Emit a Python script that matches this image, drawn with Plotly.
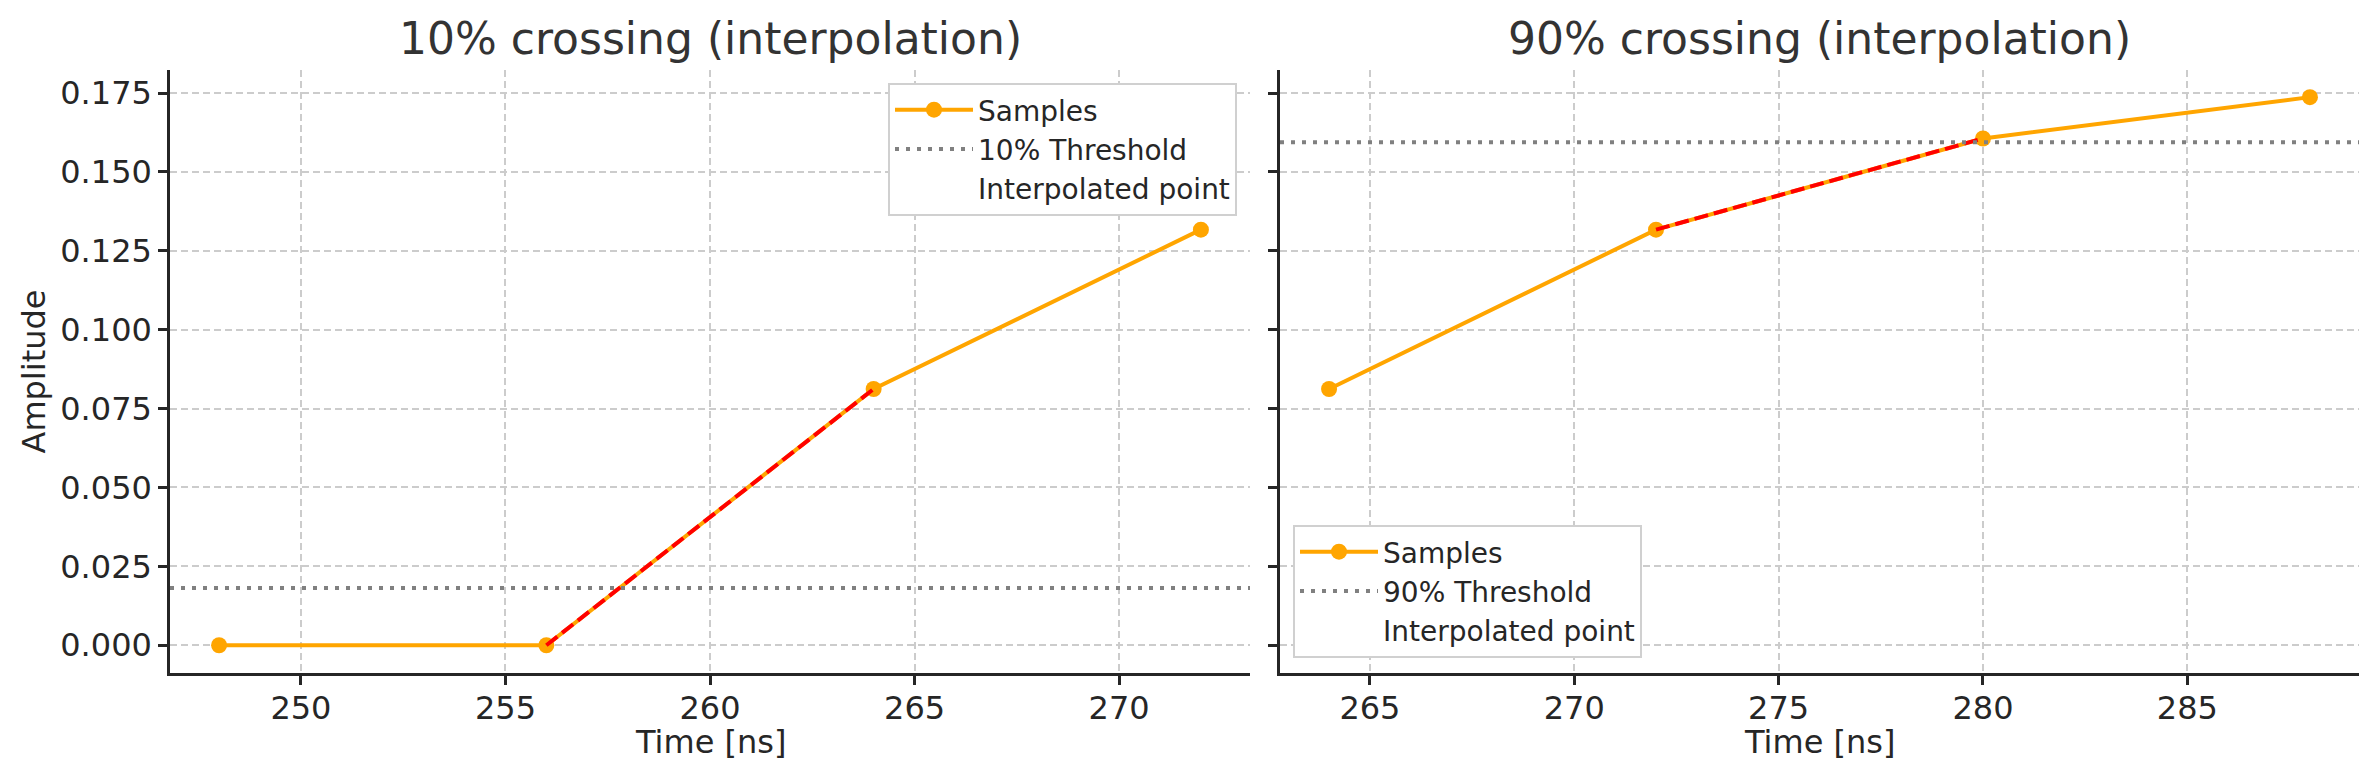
import numpy as np
import plotly.graph_objects as go
from plotly.subplots import make_subplots

# sample data
t_left = [248, 256, 264, 272]
a_left = [0.0, 0.0, 0.0812, 0.1317]
t_right = [264, 272, 280, 288]
a_right = [0.0812, 0.1317, 0.1606, 0.1737]
thr_10 = 0.0181
thr_90 = 0.1594
y_ticks = [0.0, 0.025, 0.05, 0.075, 0.1, 0.125, 0.15, 0.175]

ORANGE = '#FFA500'
FONT = 'DejaVu Sans'
TXT = '#262626'

W, H = 2379, 780

fig = make_subplots(rows=1, cols=2, shared_yaxes=True)


def panel(col, t, a, thr, pct, legend):
    # index of the segment that brackets the threshold
    k = int(np.argmax(np.array(a) >= thr)) - 1
    t_cross = float(np.interp(thr, a[k:k + 2], t[k:k + 2]))
    fig.add_trace(go.Scatter(x=t, y=a, mode='lines+markers', name='Samples',
                             line=dict(color=ORANGE, width=4),
                             marker=dict(color=ORANGE, size=16),
                             legend=legend), row=1, col=col)
    fig.add_trace(go.Scatter(x=t[k:k + 2], y=a[k:k + 2], mode='lines',
                             line=dict(color='red', width=4, dash='14px,6px'),
                             showlegend=False, legend=legend), row=1, col=col)
    fig.add_trace(go.Scatter(x=[None], y=[None], mode='lines', name=f'{pct}% Threshold',
                             line=dict(color='#808080', width=4, dash='4px,7px'),
                             legend=legend), row=1, col=col)
    fig.add_trace(go.Scatter(x=[t_cross], y=[thr], mode='markers', name='Interpolated point',
                             marker=dict(color='rgba(0,0,0,0)', size=12),
                             legend=legend), row=1, col=col)
    fig.add_hline(y=thr, line=dict(color='#808080', width=4, dash='4px,7px'),
                  row=1, col=col)


panel(1, t_left, a_left, thr_10, 10, 'legend')
panel(2, t_right, a_right, thr_90, 90, 'legend2')

ydom = [1 - 673 / H, 1 - 70 / H]
xdom1 = [170 / W, 1250 / W]
xdom2 = [1280 / W, 2359 / W]

axis_common = dict(showline=True, linecolor=TXT, linewidth=2.5, ticks='outside',
                   ticklen=9, tickwidth=2.5, tickcolor=TXT, automargin=False,
                   showgrid=True, gridcolor='#cccccc', gridwidth=1.5, griddash='7px,4px',
                   zeroline=False, tickfont=dict(family=FONT, size=32, color=TXT))

fig.update_xaxes(**axis_common, dtick=5, ticklabelstandoff=-4)
fig.update_yaxes(**axis_common, tickvals=y_ticks, tickformat='.3f',
                 range=[-0.0088, 0.1823], domain=ydom)
fig.update_layout(
    xaxis=dict(domain=xdom1, range=[246.8, 273.2]),
    xaxis2=dict(domain=xdom2, range=[262.8, 289.2]),
    yaxis2=dict(showticklabels=False),
)

leg_common = dict(font=dict(family=FONT, size=28, color=TXT), bgcolor='white',
                  bordercolor='#d0d0d0', borderwidth=2, itemwidth=78)
fig.update_layout(
    legend=dict(**leg_common, x=1237 / W, y=1 - 83 / H, xanchor='right', yanchor='top'),
    legend2=dict(**leg_common, x=1293 / W, y=1 - 658 / H, xanchor='left', yanchor='bottom'),
)

ann = []
for xc, txt in [((xdom1[0] + xdom1[1]) / 2, '10% crossing (interpolation)'),
                ((xdom2[0] + xdom2[1]) / 2, '90% crossing (interpolation)')]:
    ann.append(dict(x=xc, y=1 - 38 / H, xref='paper', yref='paper', text=txt,
                    showarrow=False, xanchor='center', yanchor='middle',
                    font=dict(family=FONT, size=44, color='#333333')))
    ann.append(dict(x=xc, y=1 - 742 / H, xref='paper', yref='paper', text='Time [ns]',
                    showarrow=False, xanchor='center', yanchor='middle',
                    font=dict(family=FONT, size=32, color=TXT)))
ann.append(dict(x=33 / W, y=(ydom[0] + ydom[1]) / 2, xref='paper', yref='paper',
                text='Amplitude', textangle=-90, showarrow=False,
                xanchor='center', yanchor='middle',
                font=dict(family=FONT, size=32, color=TXT)))

fig.update_layout(
    annotations=ann,
    width=W, height=H,
    margin=dict(l=0, r=0, t=0, b=0),
    plot_bgcolor='white', paper_bgcolor='white',
    font=dict(family=FONT, color=TXT),
)

# drop the default page margin so the figure sits at the window's corner
fig.write_html("out.html", config=dict(displayModeBar=False),
               post_script="document.body.style.margin='0';")
